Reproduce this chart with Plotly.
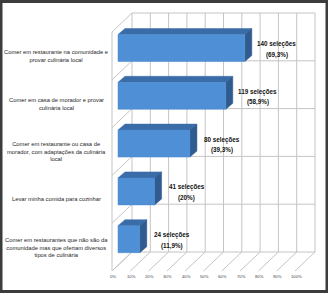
import plotly.graph_objects as go

# ---------------- data ----------------
categories = [
    "Comer em restaurante na comunidade e<br>provar culinária local",
    "Comer em casa de morador e provar<br>culinária local",
    "Comer em restaurante ou casa de<br>morador, com adaptações da culinária<br>local",
    "Levar minha comida para cozinhar",
    "Comer em restaurantes que não são da<br>comunidade mas que ofertam diversos<br>tipos de culinária",
]
selections = [140, 119, 80, 41, 24]
percent_values = [69.3, 58.9, 39.3, 20.0, 11.9]
percent_labels = ["69,3%", "58,9%", "39,3%", "20%", "11,9%"]
tick_values = [0, 10, 20, 30, 40, 50, 60, 70, 80, 90, 100]
tick_labels = ["0%", "10%", "20%", "30%", "40%", "50%", "60%", "70%", "80%", "90%", "100%"]

# ---------------- geometry (pixels) ----------------
W, H = 328, 293
PL, PR, PT, PB = 100, 322, 8, 285       # plot area
X0, SX = 118, 1.83                       # bar plane: px of 0 %, px per %
Y0, SY = 48, 47.8                        # bar plane: px of first category, px per category
FRONT = (-6, 7.9)                        # front plane offset from bar plane (px)
BACK = (14, -11.1)                       # back wall offset from bar plane (px)
DEPTH = (7, -6)                          # bar depth (px)
HALF = 13.5                              # half bar height (px)

def dx(p): return p / SX
def dy(p): return p / SY
def paper_x(p): return (p - PL) / (PR - PL)
def paper_y(p): return (PB - p) / (PB - PT)

n = len(categories)
pos = list(range(n))
bounds = [i - 0.5 for i in range(n + 1)]
GRID = "#c4c4c4"

fig = go.Figure()

# back wall grid
gx, gy = [], []
for t in tick_values:
    gx += [t + dx(BACK[0]), t + dx(BACK[0]), None]
    gy += [bounds[0] + dy(BACK[1]), bounds[-1] + dy(BACK[1]), None]
for b in bounds:
    gx += [tick_values[0] + dx(BACK[0]), tick_values[-1] + dx(BACK[0]), None]
    gy += [b + dy(BACK[1]), b + dy(BACK[1]), None]
# left side wall
gx += [tick_values[0] + dx(FRONT[0]), tick_values[0] + dx(FRONT[0]), None]
gy += [bounds[0] + dy(FRONT[1]), bounds[-1] + dy(FRONT[1]), None]
for b in bounds:
    gx += [tick_values[0] + dx(FRONT[0]), tick_values[0] + dx(BACK[0]), None]
    gy += [b + dy(FRONT[1]), b + dy(BACK[1]), None]
# floor
for t in tick_values:
    gx += [t + dx(FRONT[0]), t + dx(BACK[0]), None]
    gy += [bounds[-1] + dy(FRONT[1]), bounds[-1] + dy(BACK[1]), None]
fig.add_trace(go.Scatter(x=gx, y=gy, mode="lines", line=dict(color=GRID, width=1),
                         hoverinfo="skip", showlegend=False))

# bars (top face, side face, front face)
hh = dy(HALF)
ddx, ddy = dx(DEPTH[0]), dy(DEPTH[1])
tx, ty, sx, sy, fx, fy = [], [], [], [], [], []
for i, v in zip(pos, percent_values):
    tx += [0, v, v + ddx, ddx, 0, None]
    ty += [i - hh, i - hh, i - hh + ddy, i - hh + ddy, i - hh, None]
    sx += [v, v, v + ddx, v + ddx, v, None]
    sy += [i - hh, i + hh, i + hh + ddy, i - hh + ddy, i - hh, None]
    fx += [0, v, v, 0, 0, None]
    fy += [i - hh, i - hh, i + hh, i + hh, i - hh, None]
fig.add_trace(go.Scatter(x=tx, y=ty, mode="lines", fill="toself", fillcolor="#3a6ca8",
                         line=dict(color="#3a6ca8", width=0.5), hoverinfo="skip", showlegend=False))
fig.add_trace(go.Scatter(x=sx, y=sy, mode="lines", fill="toself", fillcolor="#2f5b8f",
                         line=dict(color="#2f5b8f", width=0.5), hoverinfo="skip", showlegend=False))
fig.add_trace(go.Scatter(x=fx, y=fy, mode="lines", fill="toself", fillcolor="#4f8fd6",
                         line=dict(color="#4a88cc", width=0.5), hoverinfo="skip", showlegend=False))

FONT = "Liberation Sans, Arial, sans-serif"
ann = []
# category labels
for i, c in zip(pos, categories):
    ann.append(dict(x=paper_x(56), xref="paper", y=i + dy(FRONT[1]), yref="y",
                    text=c, showarrow=False, xanchor="center", yanchor="middle",
                    align="center", font=dict(family=FONT, size=5.8, color="#1e1e1e")))
# data labels (two lines each)
for i, v, s, p in zip(pos, percent_values, selections, percent_labels):
    for text, off in ((f"{s} seleções", -4.0), (f"({p})", 6.5)):
        ann.append(dict(x=v + dx(32), xref="x", y=i + dy(off), yref="y",
                        text=f"<b>{text}</b>", showarrow=False,
                        xanchor="center", yanchor="middle",
                        font=dict(family=FONT, size=6.3, color="#111111")))
# axis tick labels on the floor front edge
for t, lab in zip(tick_values, tick_labels):
    ann.append(dict(x=t + dx(FRONT[0] + 1), xref="x", y=(276 - Y0) / SY, yref="y",
                    text=lab, showarrow=False, xanchor="center", yanchor="middle",
                    font=dict(family=FONT, size=4.2, color="#444444")))

fig.update_layout(
    width=W, height=H,
    margin=dict(l=PL, r=W - PR, t=PT, b=H - PB),
    paper_bgcolor="white", plot_bgcolor="white",
    xaxis=dict(range=[(PL - X0) / SX, (PR - X0) / SX], visible=False, fixedrange=True),
    yaxis=dict(range=[(PB - Y0) / SY, (PT - Y0) / SY], visible=False, fixedrange=True),
    annotations=ann,
    shapes=[dict(type="rect", xref="paper", yref="paper",
                 x0=paper_x(1), x1=paper_x(327), y0=paper_y(1.5), y1=paper_y(291.5),
                 line=dict(color="#3c3c3c", width=3))],
    showlegend=False,
)

fig.write_html("out.html", config={"displayModeBar": False},
               post_script="document.body.style.margin='0';")
